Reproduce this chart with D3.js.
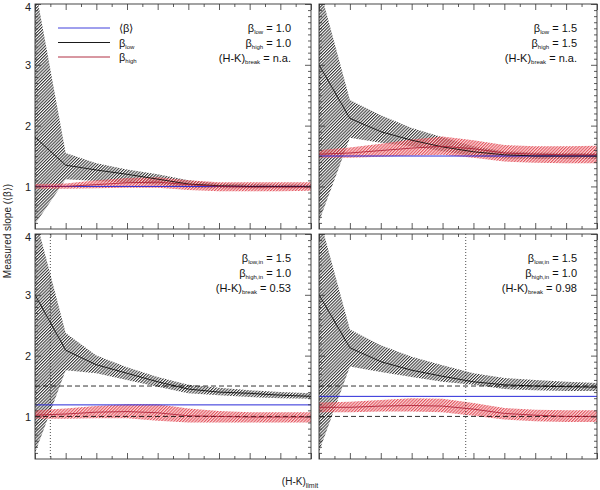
<!DOCTYPE html>
<html><head><meta charset="utf-8">
<script src="https://cdn.jsdelivr.net/npm/d3@7"></script>
<style>body{margin:0;background:#fff}svg{display:block}text{font-family:"Liberation Sans",Arial,sans-serif}</style>
</head><body>
<svg id="c" width="600" height="490"></svg>
<script>
// ---- data ----
const xLimit = [0.5,0.6,0.7,0.8,0.9,1.0,1.1,1.2,1.3,1.4];
const xTicksMajor = d3.range(0.5,1.4001,0.1);
const xTicksMinor = d3.range(0.55,1.4,0.1);
const yTicksMajor = [1,2,3,4];
const yTicksMinor = d3.range(0.4,4.0001,0.1).filter(v=>Math.abs(v-Math.round(v))>0.01);

// panel A: top-left
const aLowMid = [1.81,1.35,1.27,1.20,1.12,1.04,1.01,1.00,1.00,1.00];
const aLowUp  = [4.30,1.55,1.38,1.28,1.20,1.10,1.05,1.04,1.03,1.03];
const aLowLo  = [0.38,1.12,1.09,1.06,1.03,0.98,0.97,0.97,0.97,0.97];
const aHighMid= [1.00,1.00,1.03,1.06,1.07,1.03,1.00,0.99,0.99,0.99];
const aHighUp = [1.04,1.05,1.10,1.14,1.15,1.10,1.07,1.07,1.07,1.07];
const aHighLo = [0.96,0.96,0.97,0.98,0.98,0.94,0.92,0.92,0.92,0.93];
// panel B: top-right
const bLowMid = [3.00,2.12,1.90,1.76,1.65,1.57,1.52,1.50,1.50,1.50];
const bLowUp  = [4.30,2.42,2.17,1.96,1.81,1.66,1.58,1.56,1.55,1.55];
const bLowLo  = [0.42,1.80,1.72,1.66,1.58,1.50,1.46,1.45,1.45,1.45];
const bHighMid= [1.53,1.55,1.59,1.63,1.66,1.62,1.55,1.53,1.52,1.52];
const bHighUp = [1.60,1.64,1.70,1.77,1.82,1.76,1.68,1.66,1.66,1.67];
const bHighLo = [1.47,1.47,1.49,1.51,1.52,1.47,1.41,1.39,1.38,1.38];
// panel C: bottom-left
const cLowMid = [3.00,2.09,1.85,1.71,1.57,1.45,1.40,1.38,1.35,1.33];
const cLowUp  = [4.30,2.37,2.00,1.81,1.65,1.52,1.47,1.43,1.40,1.38];
const cLowLo  = [0.40,1.76,1.71,1.60,1.49,1.38,1.35,1.32,1.30,1.29];
const cHighMid= [1.02,1.04,1.07,1.08,1.06,1.01,1.00,0.99,0.99,0.99];
const cHighUp = [1.10,1.13,1.17,1.20,1.20,1.13,1.09,1.07,1.07,1.07];
const cHighLo = [0.96,0.96,0.97,0.97,0.93,0.90,0.90,0.90,0.90,0.90];
// panel D: bottom-right
const dLowMid = [3.00,2.13,1.90,1.76,1.66,1.57,1.52,1.50,1.49,1.48];
const dLowUp  = [4.30,2.43,2.17,1.98,1.84,1.71,1.63,1.60,1.57,1.55];
const dLowLo  = [0.42,1.82,1.73,1.65,1.57,1.52,1.45,1.43,1.42,1.42];
const dHighMid= [1.15,1.15,1.17,1.18,1.17,1.12,1.05,1.02,1.00,1.00];
const dHighUp = [1.23,1.24,1.27,1.30,1.29,1.22,1.14,1.11,1.10,1.10];
const dHighLo = [1.07,1.07,1.08,1.08,1.07,1.01,0.95,0.92,0.91,0.91];

const meanBeta = [1.0, 1.5, 1.19, 1.33];
const inputLines = [[], [], [1.5, 1.0], [1.5, 1.0]];
const breakLines = [null, null, 0.55, 0.975];
const annoLow  = ["1.0","1.5","1.5","1.5"];
const annoHigh = ["1.0","1.5","1.0","1.0"];
const annoBreak= ["n.a.","n.a.","0.53","0.98"];
const legendLabels = [["⟨β⟩",""],["β","low"],["β","high"]];

// ---- layout ----
const svg = d3.select("#c");
const cols = [[35,311],[319,597]];
const rows = [[4,229],[234,459]];
const panels = [
  {c:0,r:0,lm:aLowMid,lu:aLowUp,ll:aLowLo,hm:aHighMid,hu:aHighUp,hl:aHighLo},
  {c:1,r:0,lm:bLowMid,lu:bLowUp,ll:bLowLo,hm:bHighMid,hu:bHighUp,hl:bHighLo},
  {c:0,r:1,lm:cLowMid,lu:cLowUp,ll:cLowLo,hm:cHighMid,hu:cHighUp,hl:cHighLo},
  {c:1,r:1,lm:dLowMid,lu:dLowUp,ll:dLowLo,hm:dHighMid,hu:dHighUp,hl:dHighLo}
];
const defs = svg.append("defs");
function hatch(id,color,op,bg){
  const p = defs.append("pattern").attr("id",id).attr("patternUnits","userSpaceOnUse")
    .attr("width",2.2).attr("height",2.2).attr("patternTransform","rotate(45)");
  if(bg) p.append("rect").attr("width",2.2).attr("height",2.2).attr("fill",bg);
  p.append("line").attr("x1",0.55).attr("y1",-1).attr("x2",0.55).attr("y2",4)
    .attr("stroke",color).attr("stroke-width",1.0).attr("stroke-opacity",op);
}
hatch("hb","#111",0.9,null);
hatch("hr","#e0323e",0.85,"rgba(240,150,155,0.35)");

const blue = "#2a2ad8", red = "#a81830";

panels.forEach((P,i)=>{
  const [x0,x1] = cols[P.c], [y0,y1] = rows[P.r];
  const x = d3.scaleLinear().domain([0.5,1.4]).range([x0,x1]);
  const y = d3.scaleLinear().domain([0.3,4]).range([y1,y0]);
  defs.append("clipPath").attr("id","cp"+i).append("rect")
    .attr("x",x0).attr("y",y0).attr("width",x1-x0).attr("height",y1-y0);
  const g = svg.append("g").attr("clip-path",`url(#cp${i})`);
  const area = (up,lo)=>d3.area().x((d,j)=>x(xLimit[j])).y0((d,j)=>y(lo[j])).y1((d,j)=>y(up[j]))(xLimit);
  const line = arr=>d3.line().x((d,j)=>x(xLimit[j])).y((d,j)=>y(arr[j]))(xLimit);
  g.append("path").attr("d",area(P.lu,P.ll)).attr("fill","url(#hb)");
  g.append("path").attr("d",area(P.hu,P.hl)).attr("fill","url(#hr)");
  inputLines[i].forEach(v=>{
    g.append("line").attr("x1",x0).attr("x2",x1).attr("y1",y(v)).attr("y2",y(v))
      .attr("stroke","#000").attr("stroke-width",0.8).attr("stroke-dasharray","5,3");
  });
  if(breakLines[i]!==null){
    g.append("line").attr("x1",x(breakLines[i])).attr("x2",x(breakLines[i])).attr("y1",y0).attr("y2",y1)
      .attr("stroke","#000").attr("stroke-width",0.7).attr("stroke-dasharray","1,2");
  }
  g.append("line").attr("x1",x0).attr("x2",x1).attr("y1",y(meanBeta[i])).attr("y2",y(meanBeta[i]))
    .attr("stroke",blue).attr("stroke-width",1);
  g.append("path").attr("d",line(P.lm)).attr("fill","none").attr("stroke","#000").attr("stroke-width",0.8);
  g.append("path").attr("d",line(P.hm)).attr("fill","none").attr("stroke",red).attr("stroke-width",0.8);

  // axes (ticks inside on all four sides)
  const ax = svg.append("g").attr("class","axes");
  const mk = (axis,tr)=>{ const a=ax.append("g").attr("transform",tr).call(axis);
    a.selectAll("path.domain").remove(); a.selectAll("line").attr("stroke","#333").attr("stroke-width",0.8); return a; };
  mk(d3.axisBottom(x).tickValues(xTicksMajor).tickSize(-6).tickFormat(""),`translate(0,${y1})`);
  mk(d3.axisBottom(x).tickValues(xTicksMinor).tickSize(-3).tickFormat(""),`translate(0,${y1})`);
  mk(d3.axisTop(x).tickValues(xTicksMajor).tickSize(-6).tickFormat(""),`translate(0,${y0})`);
  mk(d3.axisTop(x).tickValues(xTicksMinor).tickSize(-3).tickFormat(""),`translate(0,${y0})`);
  const yl = mk(d3.axisLeft(y).tickValues(yTicksMajor).tickSize(-6).tickFormat(P.c===0?d3.format("d"):()=>""),`translate(${x0},0)`);
  yl.selectAll("text").attr("x",-4).attr("font-size",11).attr("fill","#222")
    .attr("font-family","Liberation Sans, Arial, sans-serif")
    .attr("dy",d=>d===4?"0.62em":"0.36em");
  mk(d3.axisLeft(y).tickValues(yTicksMinor).tickSize(-3).tickFormat(""),`translate(${x0},0)`);
  mk(d3.axisRight(y).tickValues(yTicksMajor).tickSize(-6).tickFormat(""),`translate(${x1},0)`);
  mk(d3.axisRight(y).tickValues(yTicksMinor).tickSize(-3).tickFormat(""),`translate(${x1},0)`);
  ax.append("rect").attr("x",x0).attr("y",y0).attr("width",x1-x0).attr("height",y1-y0)
    .attr("fill","none").attr("stroke","#333").attr("stroke-width",0.9);

  // annotations
  const ar = x1 - 20;
  const subs = P.r===0 ? [["β","low"],["β","high"]] : [["β","low,in"],["β","high,in"]];
  const vals = [annoLow[i],annoHigh[i]];
  const ann = (yy,main,sub,val)=>{
    const t = svg.append("text").attr("x",ar).attr("y",yy).attr("text-anchor","end").attr("font-size",11).attr("fill","#111");
    t.append("tspan").text(main);
    t.append("tspan").attr("font-size",6).attr("dy",2).text(sub);
    t.append("tspan").attr("dy",-2).text(" = "+val);
  };
  ann(y0+28,subs[0][0],subs[0][1],vals[0]);
  ann(y0+43,subs[1][0],subs[1][1],vals[1]);
  ann(y0+58,"(H-K)","break",annoBreak[i]);
});

// legend
const legCol = [blue,"#000",red];
legendLabels.forEach((L,k)=>{
  const yy = 28 + k*14.5;
  svg.append("line").attr("x1",58).attr("x2",110).attr("y1",yy).attr("y2",yy).attr("stroke",legCol[k]).attr("stroke-width",0.9);
  const t = svg.append("text").attr("x",119).attr("y",yy+4).attr("font-size",11).attr("fill","#111");
  t.append("tspan").text(L[0]);
  if(L[1]) t.append("tspan").attr("font-size",6).attr("dy",2).text(L[1]);
});

// titles
svg.append("text").attr("transform","translate(11,231) rotate(-90)").attr("text-anchor","middle")
  .attr("font-size",10).attr("fill","#222").text("Measured slope (⟨β⟩)");
const xt = svg.append("text").attr("x",300).attr("y",485).attr("text-anchor","middle").attr("font-size",10).attr("fill","#222");
xt.append("tspan").text("(H-K)");
xt.append("tspan").attr("font-size",7).attr("dy",3).text("limit");
</script>
</body></html>
